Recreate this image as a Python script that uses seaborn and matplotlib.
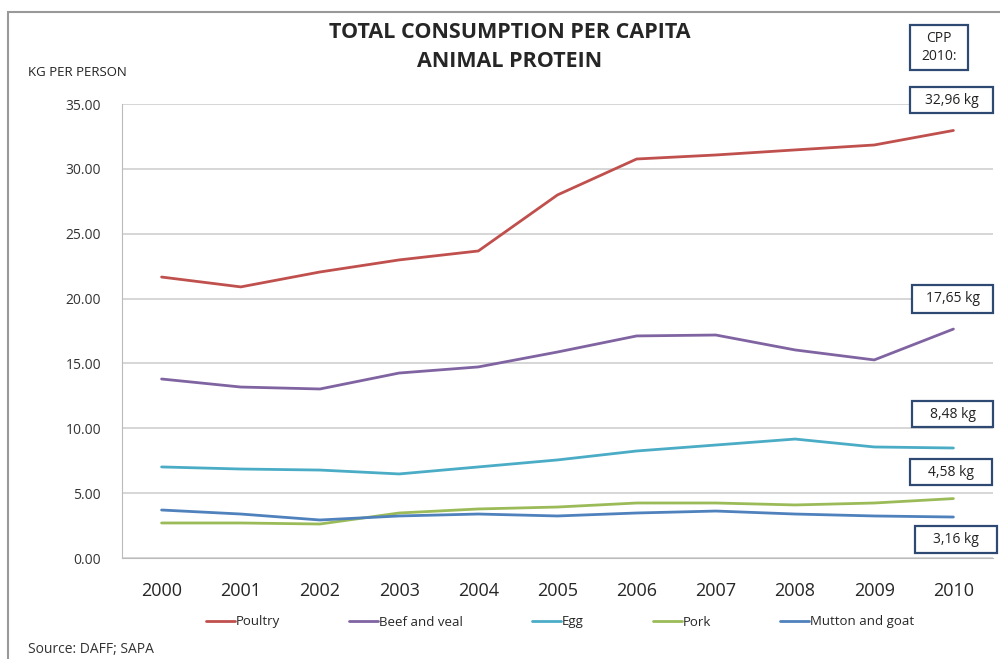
import numpy as np
import pandas as pd
import matplotlib.pyplot as plt
import seaborn as sns
from matplotlib.patches import Rectangle
from matplotlib.ticker import FixedLocator, NullFormatter

years = list(range(2000, 2011))
poultry = [21.66, 20.90, 22.05, 22.98, 23.67, 27.99, 30.76, 31.07, 31.46, 31.84, 32.96]
beef_veal = [13.80, 13.18, 13.03, 14.26, 14.73, 15.88, 17.12, 17.19, 16.04, 15.27, 17.65]
egg = [7.02, 6.86, 6.78, 6.48, 7.02, 7.56, 8.25, 8.71, 9.17, 8.56, 8.48]
pork = [2.70, 2.70, 2.62, 3.47, 3.78, 3.93, 4.24, 4.24, 4.09, 4.24, 4.58]
mutton_goat = [3.70, 3.39, 2.93, 3.24, 3.39, 3.24, 3.47, 3.62, 3.39, 3.24, 3.16]

series_names = ['Poultry', 'Beef and veal', 'Egg', 'Pork', 'Mutton and goat']
colors = ['#C0504D', '#8064A2', '#4BACC6', '#9BBB59', '#4F81BD']
box_labels = ['32,96 kg', '17,65 kg', '8,48 kg', '4,58 kg', '3,16 kg']

rows = []
for name, vals in zip(series_names, [poultry, beef_veal, egg, pork, mutton_goat]):
    for y, v in zip(years, vals):
        rows.append({'Year': y, 'Value': v, 'Series': name})
df = pd.DataFrame(rows)

sns.set_style('white')
plt.rcParams['font.family'] = ['Open Sans', 'DejaVu Sans']

fig = plt.figure(figsize=(10, 6.59), dpi=100)
W, H = 1000, 659
ax = fig.add_axes([122 / W, 1 - 558 / H, (993 - 122) / W, (558 - 104) / H])

sns.lineplot(data=df, x='Year', y='Value', hue='Series', palette=colors,
             linewidth=2, ax=ax, legend=False)

ax.set_ylim(0, 35)
ax.set_xlim(1999.5, 2010.5)
ax.set_yticks(np.arange(0, 35.1, 5))
ax.set_yticklabels(['%.2f' % t for t in np.arange(0, 35.1, 5)], fontsize=10, color='#333333')
ax.set_xticks(years)
ax.set_xticklabels([str(y) for y in years], fontsize=13)
ax.xaxis.set_minor_locator(FixedLocator(np.arange(1999.5, 2010.6, 1)))
ax.xaxis.set_minor_formatter(NullFormatter())
ax.tick_params(axis='x', which='major', length=0, pad=17)
ax.tick_params(axis='x', which='minor', length=5, color='#BBBBBB', direction='out')
ax.tick_params(axis='y', length=5, color='#BBBBBB', direction='out', pad=10)
ax.grid(axis='y', color='#D0D0D0', linewidth=1.2)
ax.set_axisbelow(True)
for s in ['top', 'right']:
    ax.spines[s].set_visible(False)
ax.spines['left'].set_color('#BBBBBB')
ax.spines['bottom'].set_color('#BBBBBB')
ax.set_xlabel('')
ax.set_ylabel('')

# outer chart frame
fig.patches.append(Rectangle((8 / W, -0.05), 1.1, 1 - 12 / H + 0.05, transform=fig.transFigure,
                             fill=False, edgecolor='#999999', linewidth=1.5))

fig.text(510 / W, 1 - 47 / H, 'TOTAL CONSUMPTION PER CAPITA\nANIMAL PROTEIN', ha='center',
         va='center', fontsize=15.5, fontweight='bold', linespacing=1.55)
fig.text(28 / W, 1 - 72 / H, 'KG PER PERSON', fontsize=9.5, va='center', color='#222222')
fig.text(28 / W, 2 / H, 'Source: DAFF; SAPA', fontsize=10, va='bottom', color='#333333')

# boxes: (left, top, right, bottom) in pixels
boxes = [(910, 25, 968, 70)] + [(910, 87, 993, 113), (912, 285, 993, 313), (912, 401, 993, 427),
                                (910, 459, 992, 485), (915, 526, 997, 553)]
texts = ['CPP\n2010:'] + box_labels
for (l, t, r, b), lab in zip(boxes, texts):
    fig.patches.append(Rectangle((l / W, 1 - b / H), (r - l) / W, (b - t) / H, transform=fig.transFigure,
                                 facecolor='white', edgecolor='#2E4A72', linewidth=1.6, zorder=5))
    fig.text((l + r) / 2 / W, 1 - (t + b) / 2 / H, lab, ha='center', va='center', fontsize=10,
             color='#222222', zorder=6, linespacing=1.3)

handles = [plt.Line2D([], [], color=c, linewidth=2) for c in colors]
fig.legend(handles, series_names, loc='center', bbox_to_anchor=(560 / W, 1 - 622 / H), ncol=5,
           frameon=False, fontsize=9.5, handlelength=2.2, handletextpad=0.1, columnspacing=5.2)

fig.savefig('out.png', dpi=100)
